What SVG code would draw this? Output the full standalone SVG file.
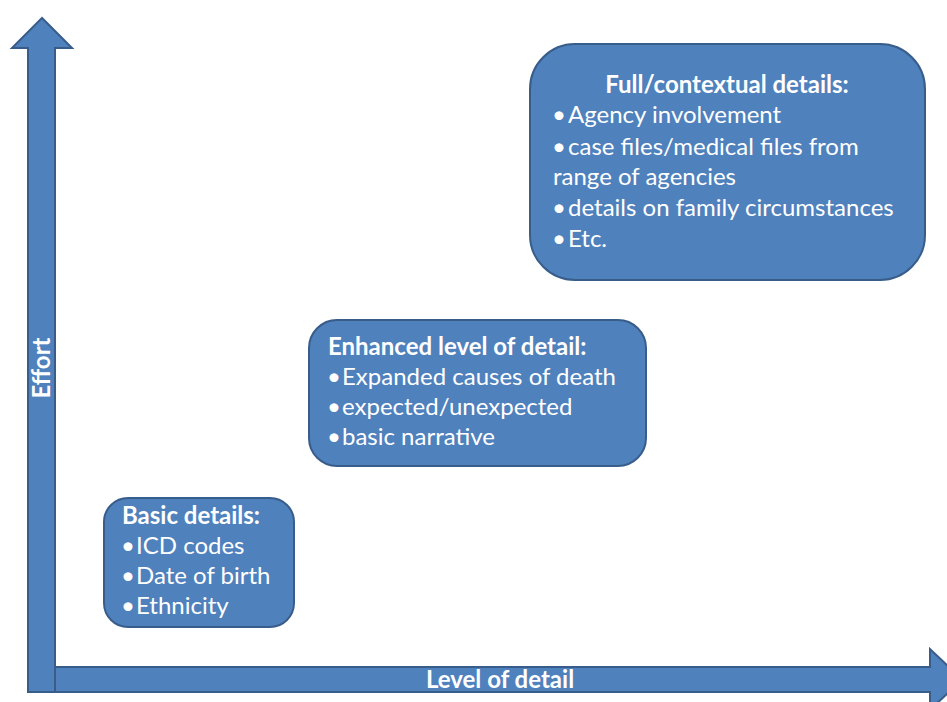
<svg xmlns="http://www.w3.org/2000/svg" width="947" height="702" viewBox="0 0 947 702">
<style>
.shape{fill:#4F81BD;stroke:#385D8A;stroke-width:2}
text{font-family:Lato,"Liberation Sans",sans-serif;fill:#FFFFFF;font-size:24px}
.b{font-weight:bold}
</style>
<rect width="947" height="702" fill="#FFFFFF"/>
<g id="axis-effort">
<path class="shape" d="M28,692 L28,48 L12,48 L42,18 L72,48 L55,48 L55,692 Z"/>
<text class="b" transform="translate(50,368) rotate(-90)" text-anchor="middle" font-size="22">Effort</text>
</g>
<g id="axis-level">
<path class="shape" d="M55,667 L930,667 L930,649 L962,679.5 L930,710 L930,692 L55,692 Z"/>
<text class="b" x="500" y="688" text-anchor="middle" font-size="22">Level of detail</text>
</g>
<g id="node-full">
<rect class="shape" x="530" y="44" width="395" height="236" rx="45" ry="45"/>
<text class="b" x="727" y="93" text-anchor="middle">Full/contextual details:</text>
<text x="552" y="123">•</text><text x="568" y="123">Agency involvement</text>
<text x="552" y="155">•</text><text x="568" y="155">case files/medical files from</text>
<text x="553" y="185">range of agencies</text>
<text x="552" y="216">•</text><text x="568" y="216">details on family circumstances</text>
<text x="552" y="247">•</text><text x="568" y="247">Etc.</text>
</g>
<g id="node-enhanced">
<rect class="shape" x="309" y="320" width="337" height="146" rx="28" ry="28"/>
<text class="b" x="328" y="355">Enhanced level of detail:</text>
<text x="327" y="385">•</text><text x="342" y="385">Expanded causes of death</text>
<text x="327" y="415">•</text><text x="342" y="415">expected/unexpected</text>
<text x="327" y="445">•</text><text x="342" y="445">basic narrative</text>
</g>
<g id="node-basic">
<rect class="shape" x="104" y="498" width="190" height="129" rx="24" ry="24"/>
<text class="b" x="122" y="524">Basic details:</text>
<text x="121" y="554">•</text><text x="136" y="554">ICD codes</text>
<text x="121" y="584">•</text><text x="136" y="584">Date of birth</text>
<text x="121" y="614">•</text><text x="136" y="614">Ethnicity</text>
</g>
</svg>
